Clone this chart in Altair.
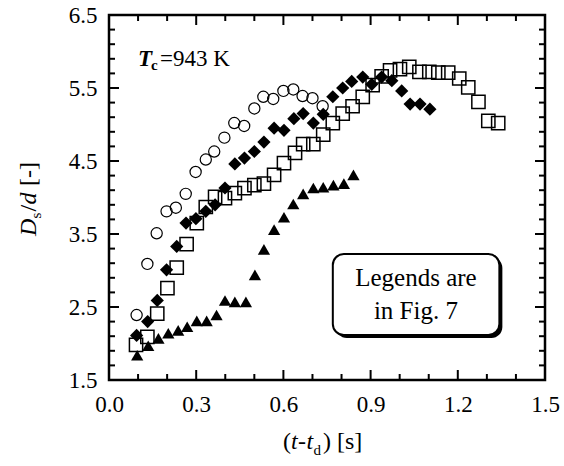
import altair as alt
import pandas as pd

FONT = "Liberation Serif"
W, H = 436, 365
PAD_L, PAD_T = 109, 15
PAD_R = 564 - PAD_L - W
PAD_B = 466 - PAD_T - H

# ---- data ----
circle_x = [0.095, 0.132, 0.164, 0.198, 0.230, 0.264, 0.298, 0.333, 0.362, 0.397,
            0.431, 0.465, 0.500, 0.531, 0.565, 0.600, 0.634, 0.666, 0.700, 0.735]
circle_y = [2.39, 3.09, 3.51, 3.81, 3.86, 4.05, 4.35, 4.52, 4.63, 4.82,
            5.02, 4.98, 5.22, 5.38, 5.35, 5.46, 5.48, 5.39, 5.36, 5.25]

diamond_x = [0.095, 0.133, 0.166, 0.198, 0.233, 0.265, 0.299, 0.333, 0.365, 0.399,
             0.433, 0.466, 0.500, 0.533, 0.568, 0.602, 0.636, 0.668, 0.703, 0.737,
             0.770, 0.804, 0.835, 0.873, 0.904, 0.938, 0.973, 1.007, 1.036, 1.070, 1.104]
diamond_y = [2.11, 2.30, 2.59, 3.01, 3.33, 3.65, 3.71, 3.81, 3.90, 4.13,
             4.46, 4.54, 4.63, 4.76, 4.95, 4.92, 5.08, 5.15, 5.02, 5.14,
             5.38, 5.50, 5.59, 5.65, 5.55, 5.65, 5.60, 5.46, 5.28, 5.28, 5.21]

square_x = [0.093, 0.132, 0.166, 0.201, 0.233, 0.267, 0.302, 0.333, 0.365, 0.399,
            0.433, 0.466, 0.500, 0.533, 0.568, 0.602, 0.640, 0.668, 0.703, 0.737,
            0.770, 0.804, 0.838, 0.873, 0.907, 0.938, 0.967, 1.001, 1.033, 1.068,
            1.102, 1.133, 1.167, 1.205, 1.236, 1.271, 1.305, 1.339]
square_y = [1.98, 2.09, 2.41, 2.76, 3.04, 3.36, 3.65, 3.87, 4.01, 3.99,
            4.06, 4.13, 4.17, 4.19, 4.31, 4.47, 4.61, 4.73, 4.73, 4.86,
            5.02, 5.15, 5.25, 5.38, 5.54, 5.66, 5.74, 5.76, 5.79, 5.72,
            5.72, 5.71, 5.71, 5.63, 5.51, 5.31, 5.05, 5.02]

triangle_x = [0.097, 0.135, 0.170, 0.204, 0.238, 0.269, 0.302, 0.336, 0.370, 0.399,
              0.433, 0.471, 0.502, 0.533, 0.568, 0.602, 0.634, 0.668, 0.703, 0.737,
              0.772, 0.808, 0.841]
triangle_y = [1.84, 1.97, 2.07, 2.14, 2.18, 2.23, 2.31, 2.31, 2.39, 2.59,
              2.57, 2.57, 2.94, 3.29, 3.56, 3.73, 3.91, 4.05, 4.13, 4.14,
              4.17, 4.19, 4.31]

x_labels = [0.0, 0.3, 0.6, 0.9, 1.2, 1.5]
x_ticks_major = [0.3, 0.6, 0.9, 1.2]
x_ticks_minor = [0.1, 0.2, 0.4, 0.5, 0.7, 0.8, 1.0, 1.1, 1.3, 1.4]
y_labels = [1.5, 2.5, 3.5, 4.5, 5.5, 6.5]
y_ticks_major = [2.5, 3.5, 4.5, 5.5]
y_ticks_minor = [1.7, 1.9, 2.1, 2.3, 2.7, 2.9, 3.1, 3.3, 3.7, 3.9, 4.1, 4.3,
                 4.7, 4.9, 5.1, 5.3, 5.7, 5.9, 6.1, 6.3]

# annotation positions (data units)
note_pos = {"x": [0.1], "y": [5.80]}
box_pos = {"x1": [0.77], "x2": [1.343], "y1": [2.116], "y2": [3.226]}
legend_lines = ["Legends are", "in Fig. 7"]
legend_text_x = [1.056, 1.056]
legend_text_y = [2.788, 2.336]

xs = alt.Scale(domain=[0, 1.5], nice=False, zero=False)
ys = alt.Scale(domain=[1.5, 6.5], nice=False, zero=False)

axis_common = dict(title=None, ticks=False, domain=False, grid=False, labelFont=FONT,
                   labelFontSize=23, labelColor="black", labelOverlap=False, labelFlush=False)
XAX = alt.Axis(values=x_labels, format=".1f", labelPadding=13, **axis_common)
YAX = alt.Axis(values=y_labels, format=".1f", labelPadding=12, **axis_common)


def XE(field):
    return alt.X(field, type="quantitative", scale=xs, axis=XAX)


def YE(field):
    return alt.Y(field, type="quantitative", scale=ys, axis=YAX)


def series(xv, yv, shape, filled, size, sw):
    d = pd.DataFrame({"x": xv, "y": yv})
    return alt.Chart(d).mark_point(shape=shape, filled=filled, size=size, opacity=1,
                                   color="black", strokeWidth=sw).encode(
        x=XE("x"), y=YE("y"))


def xtick_layers(vals, length):
    d = pd.DataFrame({"v": vals})
    b = alt.Chart(d).mark_rule(color="black", strokeWidth=2)
    return [b.encode(x=XE("v"), y=alt.value(H), y2=alt.value(H - length)),
            b.encode(x=XE("v"), y=alt.value(0), y2=alt.value(length))]


def ytick_layers(vals, length):
    d = pd.DataFrame({"v": vals})
    b = alt.Chart(d).mark_rule(color="black", strokeWidth=2)
    return [b.encode(y=YE("v"), x=alt.value(0), x2=alt.value(length)),
            b.encode(y=YE("v"), x=alt.value(W), x2=alt.value(W - length))]


def piece(txt, x, y, size=24, style="normal", weight="normal", angle=0, dx=0, dy=0, align="left"):
    return alt.Chart(alt.Data(values=[{}])).mark_text(
        text=txt, font=FONT, fontSize=size, fontStyle=style, fontWeight=weight,
        angle=angle, align=align, baseline="alphabetic", dx=dx, dy=dy, color="black"
    ).encode(x=alt.value(x), y=alt.value(y))


def note_piece(txt, size, style, weight, dx=0, dy=0):
    d = pd.DataFrame(note_pos)
    return alt.Chart(d).mark_text(
        text=txt, font=FONT, fontSize=size, fontStyle=style, fontWeight=weight,
        align="left", baseline="alphabetic", dx=dx, dy=dy, color="black"
    ).encode(x=XE("x"), y=YE("y"))


box_df = pd.DataFrame(box_pos)
box_enc = dict(x=XE("x1"), x2="x2", y=YE("y1"), y2="y2")
shadow = alt.Chart(box_df).mark_rect(fill="black", cornerRadius=11, xOffset=3, x2Offset=3,
                                     yOffset=3, y2Offset=3).encode(**box_enc)
frame = alt.Chart(box_df).mark_rect(fill="white", stroke="black", strokeWidth=2,
                                    cornerRadius=11).encode(**box_enc)
leg_df = pd.DataFrame({"t": legend_lines, "x": legend_text_x, "y": legend_text_y})
leg_text = alt.Chart(leg_df).mark_text(font=FONT, fontSize=25, align="center",
                                       baseline="alphabetic", color="black").encode(
    x=XE("x"), y=YE("y"), text="t:N")

layers = []
layers += xtick_layers(x_ticks_minor, 6) + xtick_layers(x_ticks_major, 10)
layers += ytick_layers(y_ticks_minor, 6) + ytick_layers(y_ticks_major, 10)
layers += [
    series(circle_x, circle_y, "circle", False, 125, 1.2),
    series(diamond_x, diamond_y, "diamond", True, 175, 1),
    series(square_x, square_y, "square", False, 175, 1.5),
    series(triangle_x, triangle_y, "triangle-up", True, 150, 1),
    shadow, frame, leg_text,
    note_piece("T", 23, "italic", "bold"),
    note_piece("c", 15, "normal", "bold", dx=13, dy=4),
    note_piece("=943 K", 23, "normal", "normal", dx=22),
]
# x-axis title: (t-t_d) [s]
XT_Y = 434
layers += [
    piece("(", 174, XT_Y),
    piece("t", 182, XT_Y, style="italic"),
    piece("-", 189, XT_Y),
    piece("t", 197.5, XT_Y, style="italic"),
    piece("d", 204.5, XT_Y, size=15, dy=6),
    piece(")", 214, XT_Y),
    piece("[s]", 228, XT_Y),
]
# y-axis title: D_s/d [-]
YT_X = -73
layers += [
    piece("D", YT_X, 221, style="italic", angle=270),
    piece("s", YT_X, 203.5, size=15, angle=270, dy=5),
    piece("/", YT_X, 196.5, angle=270),
    piece("d", YT_X, 189.5, style="italic", angle=270),
    piece("[-]", YT_X, 171, angle=270),
]

chart = alt.layer(*layers).properties(
    width=W, height=H,
    autosize=alt.AutoSizeParams(type="none"),
    padding={"left": PAD_L, "top": PAD_T, "right": PAD_R, "bottom": PAD_B},
).configure(background="white").configure_view(stroke="black", strokeWidth=2.5)

chart.save("out.html", embed_options={"renderer": "svg", "actions": False})
